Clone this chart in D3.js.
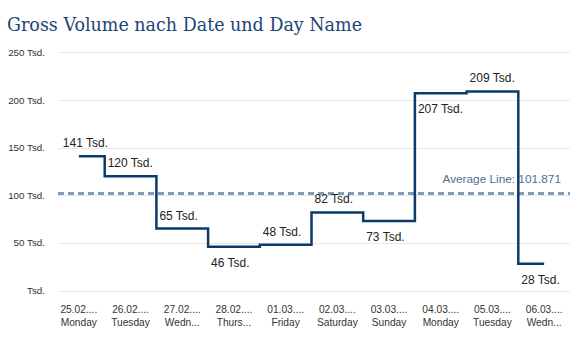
<!DOCTYPE html>
<html><head><meta charset="utf-8">
<script src="https://cdn.jsdelivr.net/npm/d3@7"></script>
<style>body{margin:0;background:#fff}svg{display:block}</style>
</head><body>
<svg id="c" width="581" height="342"></svg>
<script>
const dates = ["25.02....","26.02....","27.02....","28.02....","01.03....","02.03....","03.03....","04.03....","05.03....","06.03...."];
const days = ["Monday","Tuesday","Wedn...","Thurs...","Friday","Saturday","Sunday","Monday","Tuesday","Wedn..."];
const values = [141000,120000,65000,46000,48000,82000,73000,207000,209000,28000];
const labels = ["141 Tsd.","120 Tsd.","65 Tsd.","46 Tsd.","48 Tsd.","82 Tsd.","73 Tsd.","207 Tsd.","209 Tsd.","28 Tsd."];
const labelPos = ["above","above","above","below","above","above","below","below","above","below"];
const yTicks = [0,50000,100000,150000,200000,250000];
const yTickLabels = ["Tsd.","50 Tsd.","100 Tsd.","150 Tsd.","200 Tsd.","250 Tsd."];
const average = 101871;
const title = "Gross Volume nach Date und Day Name";

(function(){
const svg = d3.select("#c");
const mLeft = 53, mRight = 570, mTop = 52.4, mBottom = 290.5;
const x = d3.scaleBand().domain(d3.range(values.length)).range([mLeft, mRight]);
const y = d3.scaleLinear().domain([0, 250000]).range([mBottom, mTop]);
const cx = i => x(i) + x.bandwidth()/2;

svg.append("text").attr("x", 7).attr("y", 31).text(title)
  .attr("font-family", "Georgia, 'DejaVu Serif', serif").attr("font-size", 19)
  .attr("textLength", 355).attr("lengthAdjust", "spacingAndGlyphs").attr("fill", "#1a4673");

svg.append("g").selectAll("line").data(yTicks).join("line")
  .attr("x1", 58).attr("x2", mRight).attr("y1", d => Math.round(y(d))+0.5).attr("y2", d => Math.round(y(d))+0.5)
  .attr("stroke", "#e8e8e8").attr("stroke-width", 1);
svg.append("g").selectAll("text").data(yTicks).join("text")
  .attr("x", 45).attr("y", d => y(d) + 3.5).attr("text-anchor", "end")
  .attr("font-family", "'Liberation Sans', Arial, sans-serif").attr("font-size", 9.8).attr("fill", "#333")
  .text((d,i) => yTickLabels[i]);

const xl = svg.append("g");
xl.selectAll("text.d").data(dates).join("text").attr("class","d")
  .attr("x", (d,i) => cx(i)).attr("y", 313).attr("text-anchor","middle")
  .attr("font-family", "'Liberation Sans', Arial, sans-serif").attr("font-size", 10.2).attr("fill", "#333").text(d => d);
xl.selectAll("text.w").data(days).join("text").attr("class","w")
  .attr("x", (d,i) => cx(i)).attr("y", 326).attr("text-anchor","middle")
  .attr("font-family", "'Liberation Sans', Arial, sans-serif").attr("font-size", 10.2).attr("fill", "#333").text(d => d);

svg.append("line").attr("x1", 58).attr("x2", mRight).attr("y1", y(average)).attr("y2", y(average))
  .attr("stroke", "#7f9bb8").attr("stroke-width", 3).attr("stroke-dasharray", "6,4");
svg.append("text").attr("x", 561).attr("y", y(average) - 10).attr("text-anchor","end")
  .attr("font-family", "'Liberation Sans', Arial, sans-serif").attr("font-size", 11.8).attr("fill", "#4f6f8f")
  .text("Average Line: " + d3.format(",.3f")(average/1000));

const line = d3.line().x((d,i) => cx(i)).y(d => y(d)).curve(d3.curveStep);
svg.append("path").datum(values).attr("d", line).attr("fill","none")
  .attr("stroke", "#0a3b6b").attr("stroke-width", 2.5);

svg.append("g").selectAll("text").data(values).join("text")
  .attr("x", (d,i) => i === 0 ? cx(0) - 16 : x(i) + 3)
  .attr("y", (d,i) => labelPos[i] === "above" ? y(d) - 9 : y(d) + 20)
  .attr("font-family", "'Liberation Sans', Arial, sans-serif").attr("font-size", 12).attr("fill", "#222")
  .text((d,i) => labels[i]);
})();
</script>
</body></html>
